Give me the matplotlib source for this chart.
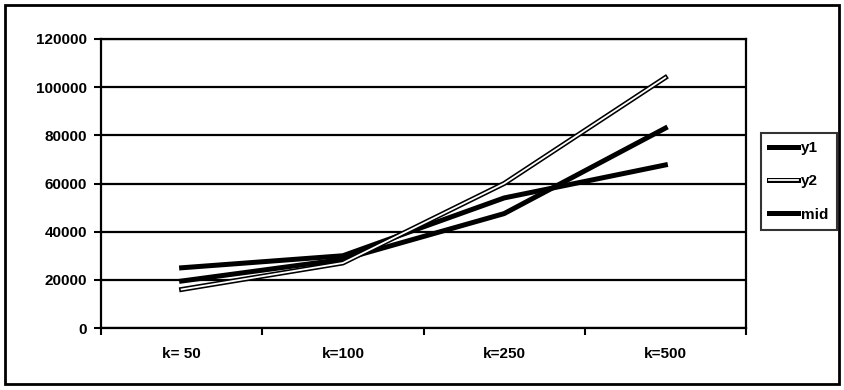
import matplotlib
matplotlib.use("Agg")
import matplotlib.pyplot as plt
import matplotlib.patheffects as pe
from matplotlib.patches import Rectangle
import numpy as np

categories = ["k= 50", "k=100", "k=250", "k=500"]
y1 = [25000, 30000, 54000, 67700]
y2 = [16000, 27000, 60000, 104000]
mid = [19500, 28500, 47500, 83000]
yticks = [0, 20000, 40000, 60000, 80000, 100000, 120000]

plt.rcParams['font.family'] = ['Liberation Sans', 'DejaVu Sans']
plt.rcParams['font.weight'] = 'bold'

W, H = 844, 390
fig = plt.figure(figsize=(W / 100, H / 100), dpi=100)
fig.patch.set_facecolor('white')

# outer chart border
fig.patches.append(Rectangle((5 / W, 1 - 384 / H), 834 / W, 379 / H,
                             transform=fig.transFigure, fill=False,
                             edgecolor='black', linewidth=2, zorder=0))

L, R, T, B = 101, 746, 39, 328
ax = fig.add_axes([L / W, 1 - B / H, (R - L) / W, (B - T) / H])

x = np.arange(len(categories)) + 0.5
ax.plot(x, y1, color='black', linewidth=3.6, label='y1', zorder=3)
ax.plot(x, y2, color='white', linewidth=1.3, label='y2', zorder=4,
        path_effects=[pe.Stroke(linewidth=3.6, foreground='black'), pe.Normal()])
ax.plot(x, mid, color='black', linewidth=3.6, label='mid', zorder=3)

ax.set_xlim(0, len(categories))
ax.set_ylim(0, 120000)
ax.set_yticks(yticks)
ax.set_yticklabels([str(v) for v in yticks], fontsize=11, fontweight='bold')
ax.yaxis.grid(True, color='black', linewidth=1.6)
ax.set_axisbelow(True)

ax.set_xticks(np.arange(len(categories) + 1))
ax.set_xticklabels([])
ax.set_xticks(x, minor=True)
ax.set_xticklabels(categories, minor=True, fontsize=11, fontweight='bold')
ax.tick_params(axis='x', which='minor', length=0, pad=14)
ax.tick_params(axis='x', which='major', length=5, width=1.5, direction='out')
ax.tick_params(axis='y', length=5, width=1.5, direction='out', pad=5)

for s in ax.spines.values():
    s.set_linewidth(1.6)
    s.set_color('black')

leg = fig.legend(loc='upper left', bbox_to_anchor=(761 / W, 1 - 133 / H),
                 frameon=True, fancybox=False, edgecolor='black',
                 handlelength=1.9, handletextpad=0.15, labelspacing=1.25,
                 borderpad=0.55, borderaxespad=0, prop={'size': 11, 'weight': 'bold'})
leg.get_frame().set_linewidth(1.5)

fig.savefig("out.png", dpi=100, facecolor='white')
